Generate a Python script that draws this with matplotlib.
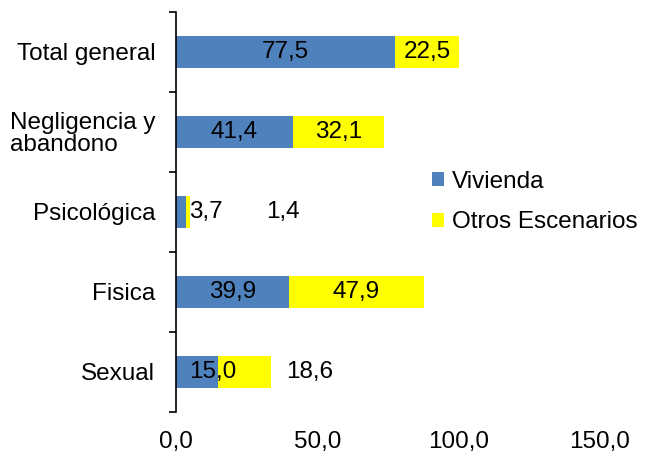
import numpy as np
import matplotlib.pyplot as plt
from matplotlib.ticker import FixedLocator

plt.rcParams['font.family'] = ['Liberation Sans', 'DejaVu Sans']

categories = ['Sexual', 'Fisica', 'Psicológica', 'Negligencia y\nabandono', 'Total general']
vivienda = [15.0, 39.9, 3.7, 41.4, 77.5]
otros = [18.6, 47.9, 1.4, 32.1, 22.5]
# label shifts from the segment centre (data units), as in the original
viv_shift = [5.6, 0, 8.8, 0, 0]
otr_shift = [22.9, 0, 33.5, 0, 0]

blue = '#4F81BD'
yellow = '#FFFF00'
fs = 17.5

fig = plt.figure(figsize=(6.46, 4.59), dpi=100)
ax = fig.add_axes([0.2724, 0.1024, 0.6563, 0.8715])

y = np.arange(len(categories))
ax.barh(y, vivienda, height=0.4, color=blue, label='Vivienda')
ax.barh(y, otros, left=vivienda, height=0.4, color=yellow, label='Otros Escenarios')

for i in range(len(categories)):
    v, o = vivienda[i], otros[i]
    ax.text(v / 2 + viv_shift[i], y[i], f'{v:.1f}'.replace('.', ','),
            ha='center', va='center', fontsize=fs)
    ax.text(v + o / 2 + otr_shift[i], y[i], f'{o:.1f}'.replace('.', ','),
            ha='center', va='center', fontsize=fs)

ax.set_xlim(0, 150)
ax.set_ylim(-0.5, len(categories) - 0.5)
ax.set_xticks([0, 50, 100, 150])
ax.set_xticklabels([f'{t:.1f}'.replace('.', ',') for t in [0, 50, 100, 150]], fontsize=fs)
ax.tick_params(axis='x', length=0, pad=14)

ax.set_yticks(y)
ax.set_yticklabels(categories, fontsize=fs, linespacing=0.95)
ax.tick_params(axis='y', which='major', length=0, pad=15)
ax.yaxis.set_minor_locator(FixedLocator(np.arange(-0.5, len(categories), 1.0)))
ax.tick_params(axis='y', which='minor', length=5, width=1.2, color='black')
for lab in ax.get_yticklabels():
    lab.set_multialignment('left')

for s in ['top', 'right', 'bottom']:
    ax.spines[s].set_visible(False)
ax.spines['left'].set_linewidth(1.2)

fig.legend(loc='upper left', bbox_to_anchor=(0.635, 0.675), frameon=False, fontsize=fs,
           handlelength=0.5, handleheight=0.5, handletextpad=0.3, labelspacing=0.75)

fig.savefig('out.png', dpi=100)
